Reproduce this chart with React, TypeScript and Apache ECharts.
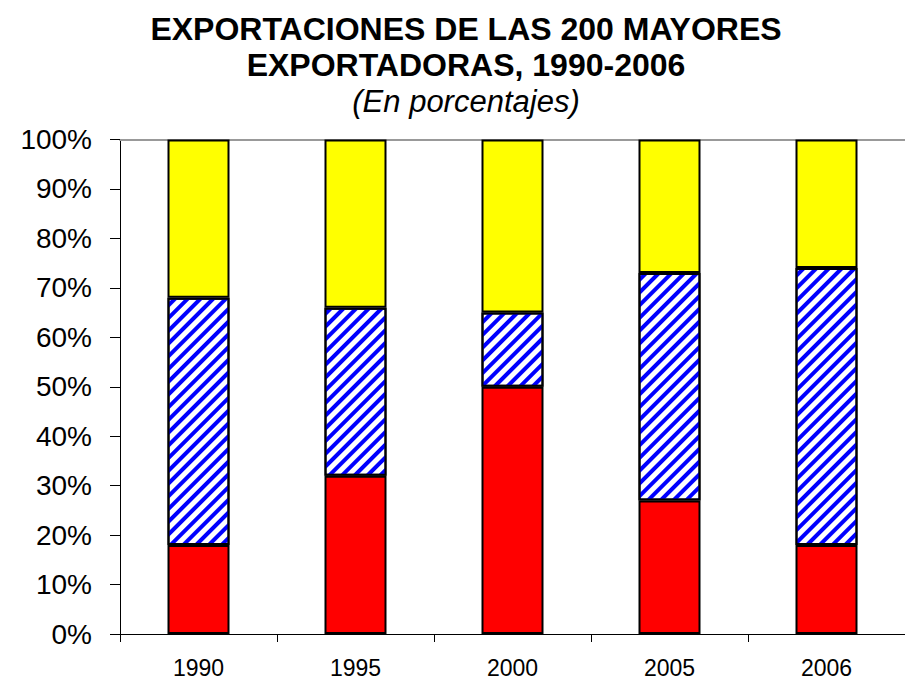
import React, { useEffect, useRef } from "react";
import * as echarts from "echarts";

const categories = ["1990", "1995", "2000", "2005", "2006"];
const redValues = [18, 32, 50, 27, 18];
const blueValues = [50, 34, 15, 46, 56];
const yellowValues = [32, 34, 35, 27, 26];
const titleLines = ["EXPORTACIONES DE LAS 200 MAYORES", "EXPORTADORAS, 1990-2006"];
const subtitle = "(En porcentajes)";

const FONT = '"Liberation Sans", Arial, sans-serif';

export default function App() {
  const ref = useRef<HTMLDivElement>(null);
  useEffect(() => {
    if (!ref.current) return;
    const chart = echarts.init(ref.current, null, { renderer: "svg" });
    const border = { borderColor: "#000", borderWidth: 2 };
    chart.setOption({
      animation: false,
      backgroundColor: "#fff",
      textStyle: { fontFamily: FONT },
      title: [
        {
          text: titleLines.join("\n"),
          left: 461,
          top: 6,
          textAlign: "center",
          textStyle: { fontFamily: FONT, fontSize: 32, fontWeight: "bold", lineHeight: 36, color: "#000" },
        },
        {
          text: subtitle,
          left: 461,
          top: 78,
          textAlign: "center",
          textStyle: { fontFamily: FONT, fontSize: 31, fontWeight: "normal", fontStyle: "italic", lineHeight: 36, color: "#000" },
        },
      ],
      grid: { left: 120, top: 139.5, bottom: 46, width: 788, containLabel: false },
      xAxis: [
        {
          type: "category",
          data: categories,
          position: "bottom",
          axisLine: { lineStyle: { color: "#000", width: 1 } },
          axisTick: { show: true, length: 8, lineStyle: { color: "#000" } },
          axisLabel: { fontSize: 23, color: "#000", margin: 22, fontFamily: FONT },
        },
        {
          type: "category",
          data: categories,
          position: "top",
          axisLine: { lineStyle: { color: "#999", width: 2 } },
          axisTick: { show: false },
          axisLabel: { show: false },
        },
      ],
      yAxis: {
        type: "value",
        min: 0,
        max: 100,
        interval: 10,
        axisLine: { show: true, lineStyle: { color: "#000", width: 1 } },
        axisTick: { show: true, length: 10, lineStyle: { color: "#000" } },
        splitLine: { show: false },
        axisLabel: { formatter: "{value}%", fontSize: 28, color: "#000", margin: 28, fontFamily: FONT },
      },
      series: [
        {
          type: "bar",
          stack: "total",
          data: redValues,
          barWidth: 62,
          itemStyle: { color: "#ff0000", ...border },
        },
        {
          type: "bar",
          stack: "total",
          data: blueValues,
          barWidth: 62,
          itemStyle: {
            color: "#ffffff",
            ...border,
            decal: {
              symbol: "rect",
              symbolSize: 1,
              color: "#0000ff",
              backgroundColor: "#ffffff",
              dashArrayX: [1, 0],
              dashArrayY: [4, 5],
              rotation: -Math.PI / 4,
            },
          },
        },
        {
          type: "bar",
          stack: "total",
          data: yellowValues,
          barWidth: 62,
          itemStyle: { color: "#ffff00", ...border },
        },
      ],
    });
    return () => chart.dispose();
  }, []);
  return <div ref={ref} style={{ width: 905, height: 680, position: "absolute", left: 0, top: 0 }} />;
}
